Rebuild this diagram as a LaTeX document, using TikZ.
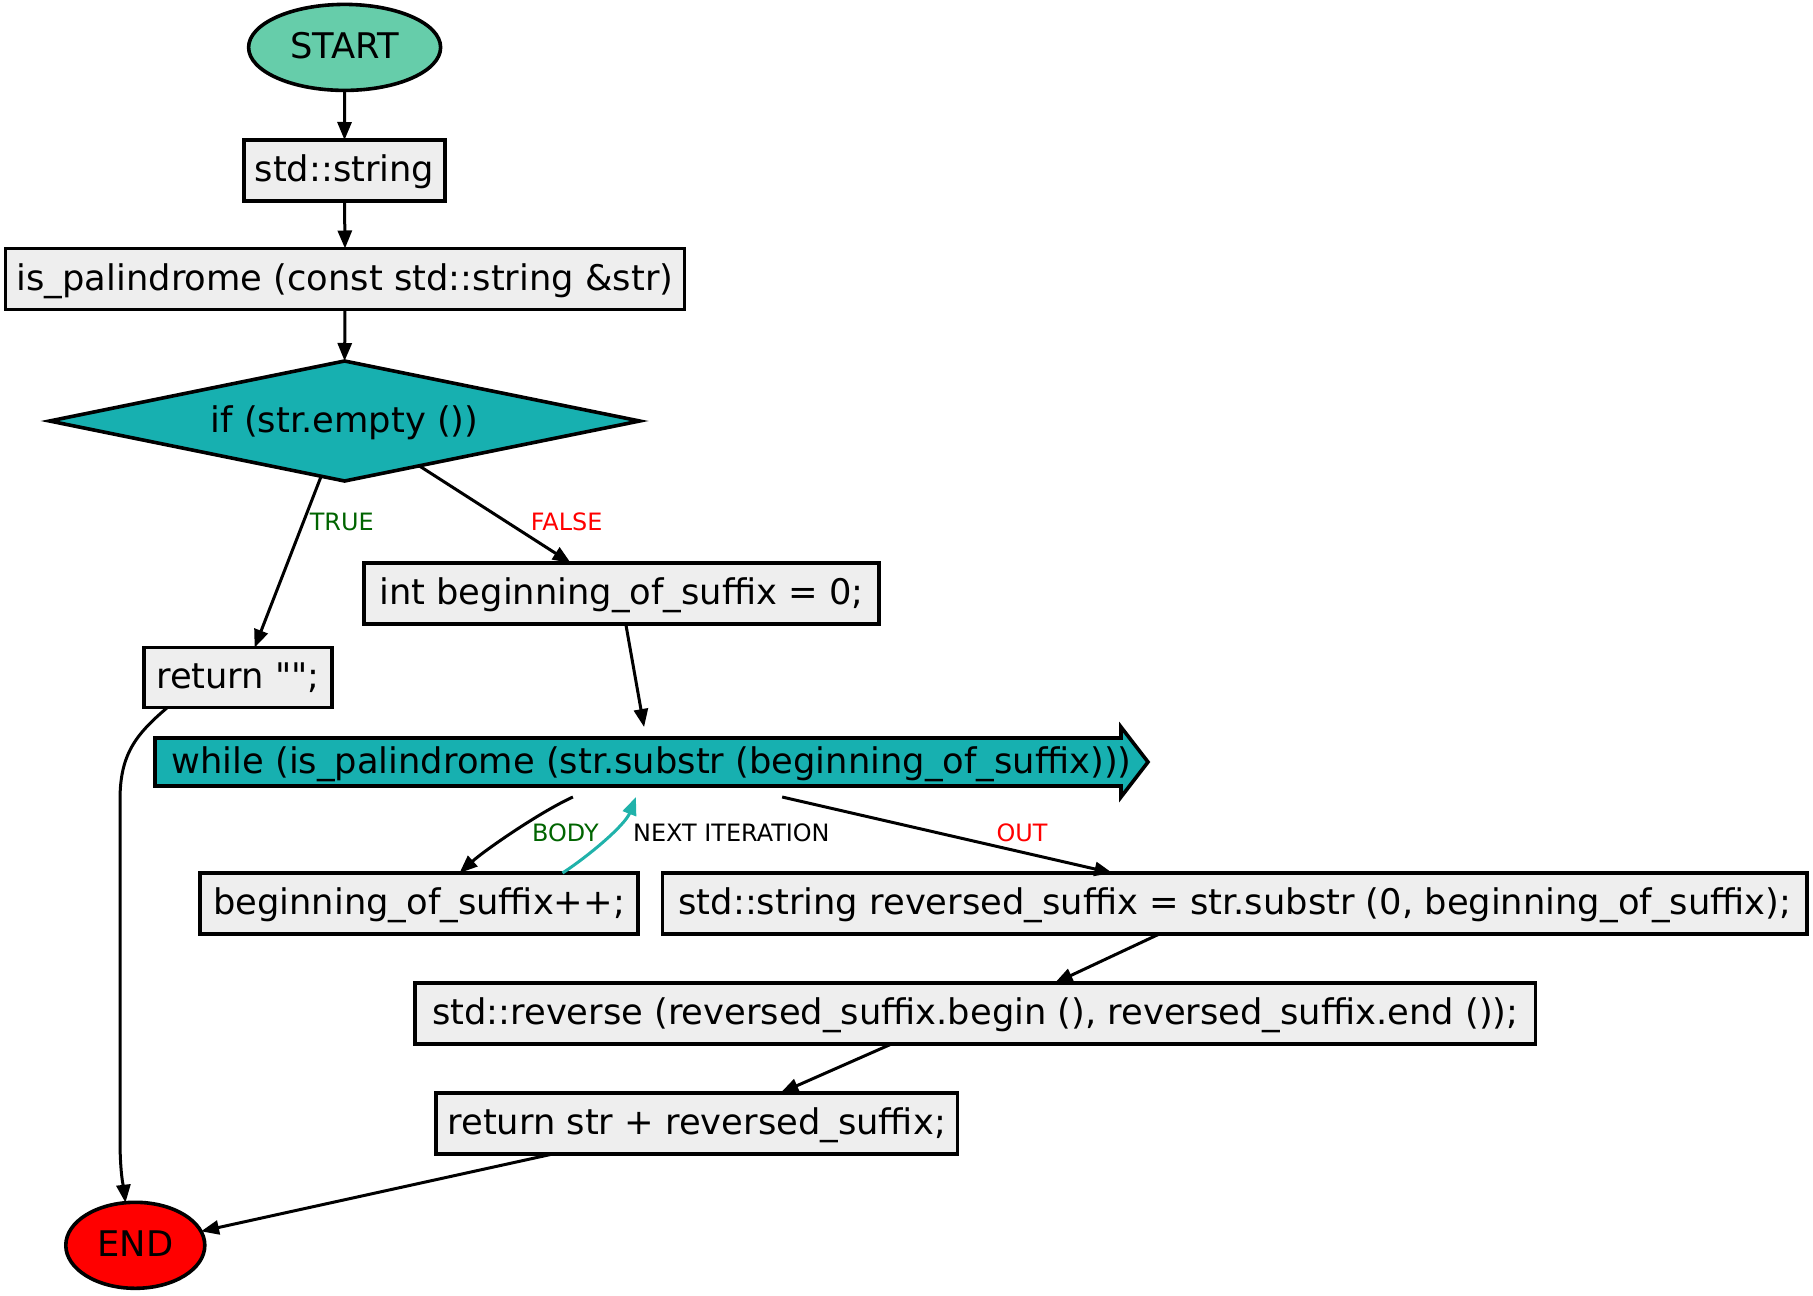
\documentclass[tikz,border=0pt]{standalone}
\usepackage{fontspec}
\setmainfont{DejaVu Sans}[Ligatures=TeXOff]
\usetikzlibrary{shapes.geometric,arrows.meta,calc}
\definecolor{startc}{RGB}{102,205,170}
\definecolor{tealc}{RGB}{23,176,176}
\definecolor{boxc}{RGB}{238,238,238}
\definecolor{endc}{RGB}{255,0,0}
\definecolor{truec}{RGB}{0,100,0}
\definecolor{falsec}{RGB}{255,0,0}
\definecolor{nextc}{RGB}{32,178,170}
\begin{document}
\begin{tikzpicture}[x=0.5pt,y=-0.5pt,
  every node/.style={font=\fontsize{17.65pt}{20pt}\selectfont, inner sep=0pt, outer sep=0pt, text height=1.12em, text depth=0em},
  stmt/.style={draw, line width=1.8pt, fill=boxc, rectangle},
  lbl/.style={font=\fontsize{11.95pt}{14pt}\selectfont, text height=0.73em, text depth=0em},
  flow/.style={line width=1.5pt, -{Triangle[length=9pt,width=7pt]}}]
\useasboundingbox (0,0) rectangle (1813,1295);

% nodes
\node[ellipse, draw, line width=1.8pt, fill=startc, minimum width=0.5*192pt, minimum height=0.5*86pt] (start) at (344.6,47.4) {START};
\node[stmt, minimum width=0.5*201pt, minimum height=0.5*61pt] (str) at (344.5,170.5) {std::string};
\node[stmt, minimum width=0.5*679pt, minimum height=0.5*61pt] (fn) at (345,279) {is\_palindrome (const std::string \&str)};
\node[diamond, draw, line width=1.8pt, fill=tealc, aspect=4.9, minimum width=0.5*590pt, minimum height=0.5*120pt] (if) at (344.6,421) {if (str.empty ())};
\node[stmt, minimum width=0.5*515pt, minimum height=0.5*61pt] (int) at (621.5,593.5) {int beginning\_of\_suffix = 0;};
\node[stmt, minimum width=0.5*187.5pt, minimum height=0.5*60pt] (ret) at (238,677.6) {return "";};

% while shape
\draw[line width=1.8pt, fill=tealc] (155,738) -- (1121,738) -- (1121,727) -- (1148,762) -- (1121,797) -- (1121,786) -- (155,786) -- cycle;
\node[minimum width=0.5*993pt, minimum height=0.5*70pt] (wh) at (651.5,762) {while (is\_palindrome (str.substr (beginning\_of\_suffix)))};

\node[stmt, minimum width=0.5*438pt, minimum height=0.5*61pt] (body) at (419,903.5) {beginning\_of\_suffix++;};
\node[stmt, minimum width=0.5*1144.4pt, minimum height=0.5*61pt] (rev) at (1234.8,903.5) {std::string reversed\_suffix = str.substr (0, beginning\_of\_suffix);};
\node[stmt, minimum width=0.5*1120.6pt, minimum height=0.5*61pt] (reverse) at (975.3,1013.5) {std::reverse (reversed\_suffix.begin (), reversed\_suffix.end ());};
\node[stmt, minimum width=0.5*521.4pt, minimum height=0.5*61pt] (retstr) at (696.7,1123.4) {return str + reversed\_suffix;};
\node[ellipse, draw, line width=1.8pt, fill=endc, minimum width=0.5*139pt, minimum height=0.5*86pt] (end) at (135.3,1245.3) {END};

% edges
\draw[flow] (start.south) -- (str.north);
\draw[flow] (str.south) -- (fn.north);
\draw[flow] (fn.south) -- (if.north);
\draw[flow] (if.247.5) -- (ret.61.4);
\draw[flow] (if.-31.9) -- (int.149.8);
\draw[flow] (int.-82.5) -- (wh.102.1);
\draw[flow] (ret.203.5) .. controls (135,735) and (120,755) .. (120,800) -- (120,1140) .. controls (120,1175) and (124,1190) .. (end.103);
\draw[flow] (wh.204.4) .. controls (540,812) and (485,850) .. (body.37.3);
\draw[flow, nextc] (body.12) .. controls (590,855) and (625,825) .. (wh.246.1);
\draw[flow] (wh.-15) -- (rev.166.9);
\draw[flow] (rev.202.2) -- (reverse.21.1);
\draw[flow] (reverse.200.8) -- (retstr.20.7);
\draw[flow] (retstr.192) -- (end.12.4);

% labels
\node[lbl, text=truec] (ltrue) at (341.7,523.5) {TRUE};
\node[lbl, text=falsec] (lfalse) at (566.6,523.5) {FALSE};
\node[lbl, text=truec] (lbody) at (565.4,834.5) {BODY};
\node[lbl] (lnext) at (731.4,834.5) {NEXT ITERATION};
\node[lbl, text=falsec] (lout) at (1022,834.5) {OUT};
\end{tikzpicture}
\end{document}
